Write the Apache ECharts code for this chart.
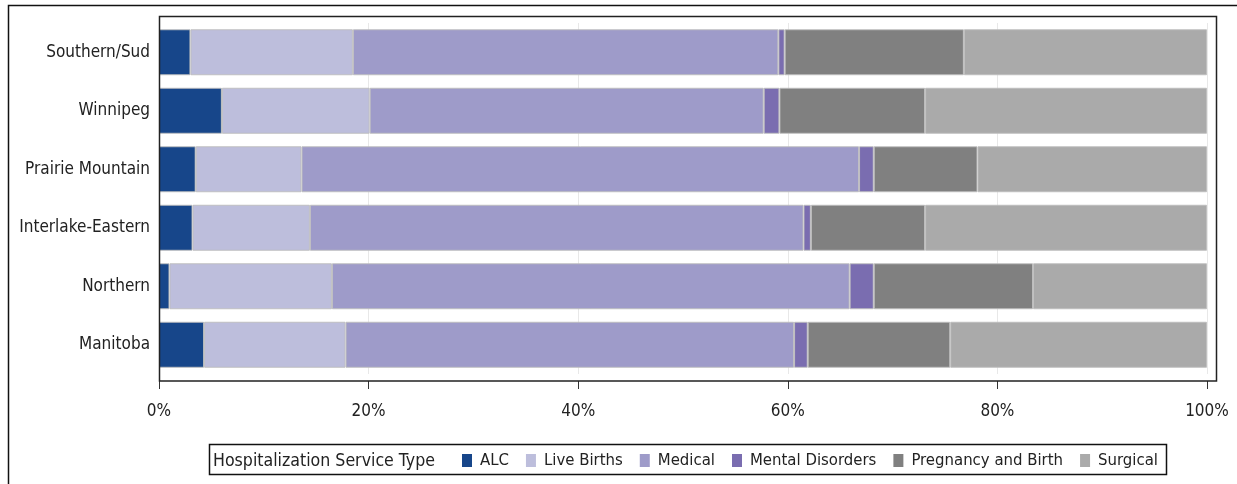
<!DOCTYPE html>
<html>
<head>
<meta charset="utf-8">
<script src="https://cdn.jsdelivr.net/npm/echarts@6/dist/echarts.min.js"></script>
<style>html,body{margin:0;padding:0;background:#fff;}#c{width:1237px;height:484px;}</style>
</head>
<body>
<div id="c"></div>
<script>
const categories = ['Southern/Sud', 'Winnipeg', 'Prairie Mountain', 'Interlake-Eastern', 'Northern', 'Manitoba'];
const seriesNames = ['ALC', 'Live Births', 'Medical', 'Mental Disorders', 'Pregnancy and Birth', 'Surgical'];
const alc = [3.0, 6.0, 3.5, 3.2, 1.0, 4.3];
const liveBirths = [15.5, 14.1, 10.1, 11.2, 15.5, 13.5];
const medical = [40.6, 37.6, 53.2, 47.1, 49.4, 42.8];
const mentalDisorders = [0.6, 1.5, 1.4, 0.7, 2.3, 1.3];
const pregnancyBirth = [17.1, 13.9, 9.9, 10.9, 15.2, 13.6];
const surgical = [23.2, 26.9, 21.9, 26.9, 16.6, 24.5];
const xTicks = [0, 20, 40, 60, 80, 100];
const legendTitle = 'Hospitalization Service Type';

const colors = ['#17468a', '#bdbedc', '#9e9bc9', '#7a6db0', '#808080', '#aaaaaa'];
const values = [alc, liveBirths, medical, mentalDisorders, pregnancyBirth, surgical];

const chart = echarts.init(document.getElementById('c'), null, {renderer: 'canvas'});
const font = '"DejaVu Sans Condensed", "DejaVu Sans", sans-serif';

chart.setOption({
  animation: false,
  backgroundColor: '#fff',
  grid: {left: 159, width: 1048, top: 23, height: 351},
  xAxis: {
    type: 'value', min: xTicks[0], max: xTicks[xTicks.length - 1], interval: 20,
    offset: 7,
    axisLine: {show: false},
    axisTick: {show: true, length: 8, lineStyle: {color: '#333'}},
    axisLabel: {formatter: v => v + '%', color: '#222', fontSize: 17, fontFamily: font, margin: 22},
    splitLine: {show: true, lineStyle: {color: '#e8e8e8', width: 1}}
  },
  yAxis: {
    type: 'category', data: categories, inverse: true,
    axisLine: {show: false}, axisTick: {show: false},
    axisLabel: {color: '#222', fontSize: 17, fontFamily: font, margin: 9}
  },
  legend: {
    data: seriesNames,
    left: 462, top: 452, padding: 0,
    itemWidth: 10, itemHeight: 13, itemGap: 17,
    icon: 'rect',
    itemStyle: {borderWidth: 0},
    textStyle: {fontSize: 16.6, fontFamily: font, color: '#222', padding: [0, 0, 0, 3]}
  },
  graphic: [
    {type: 'rect', silent: true, shape: {x: 8.5, y: 5.5, width: 1240, height: 490}, style: {fill: 'none', stroke: '#111', lineWidth: 1.5}},
    {type: 'rect', silent: true, z: 10, shape: {x: 159.5, y: 16.5, width: 1057, height: 364.5}, style: {fill: 'none', stroke: '#222', lineWidth: 1.5}},
    {type: 'rect', silent: true, shape: {x: 209.5, y: 444.5, width: 957, height: 30}, style: {fill: 'none', stroke: '#111', lineWidth: 1.5}},
    {type: 'text', silent: true, x: 213, y: 461, style: {text: legendTitle, font: '17.6px ' + font, fill: '#222', textVerticalAlign: 'middle', verticalAlign: 'middle'}}
  ],
  series: seriesNames.map((name, i) => ({
    name: name,
    type: 'bar',
    stack: 'total',
    barWidth: 46,
    data: values[i],
    itemStyle: {color: colors[i], borderColor: 'rgba(190,190,190,0.9)', borderWidth: 1}
  }))
});
</script>
</body>
</html>
